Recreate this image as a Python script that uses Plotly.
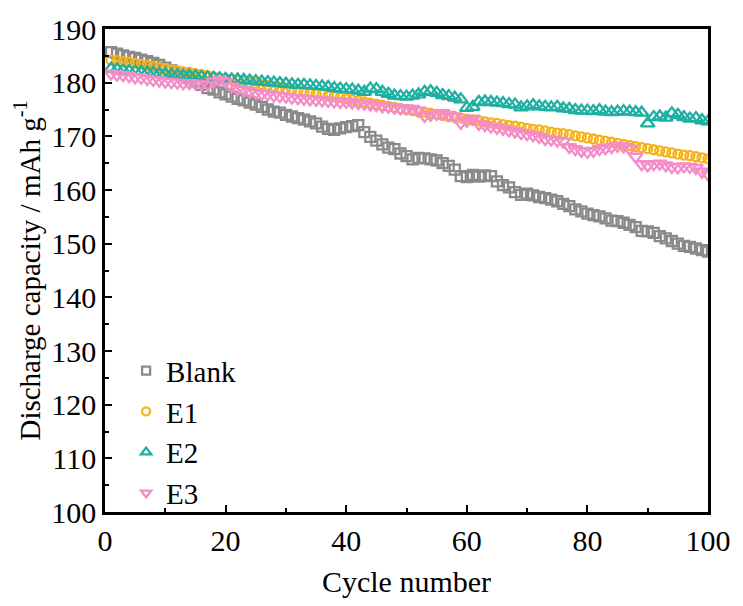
import plotly.graph_objects as go

cycles = list(range(1, 101))

blank = [185.7, 185.4, 185.1, 184.8, 184.6, 184.3, 184.0, 183.7, 183.3, 182.8,
         182.3, 181.8, 181.3, 180.8, 180.2, 179.6, 179.0, 178.7, 178.2, 177.8,
         177.4, 177.0, 176.7, 176.3, 175.9, 175.5, 175.0, 174.6, 174.4, 174.0,
         173.7, 173.4, 173.1, 172.8, 172.4, 171.8, 171.4, 171.2, 171.5, 171.7,
         171.9, 172.1, 170.8, 169.9, 169.2, 168.5, 167.9, 167.6, 166.8, 166.3,
         165.7, 166.0, 165.9, 165.7, 165.5, 165.0, 164.5, 163.8, 162.6, 162.4,
         162.8, 162.5, 162.7, 162.6, 161.6, 160.9, 160.5, 159.6, 159.1, 159.3,
         159.0, 158.7, 158.5, 158.2, 157.9, 157.4, 157.0, 156.4, 156.0, 155.6,
         155.3, 155.1, 154.7, 154.3, 154.2, 153.9, 153.5, 153.1, 152.4, 152.3,
         152.0, 151.4, 151.0, 150.5, 150.0, 149.6, 149.4, 149.1, 148.8, 148.5]

e1 = [184.2, 184.1, 183.9, 183.8, 183.6, 183.4, 183.2, 183.0, 182.8, 182.6,
      182.4, 182.2, 182.0, 181.9, 181.7, 181.5, 181.3, 181.1, 180.9, 180.7,
      180.6, 180.4, 180.2, 180.0, 179.9, 179.7, 179.5, 179.3, 179.1, 178.9,
      178.7, 178.5, 178.3, 178.2, 178.0, 177.8, 177.6, 177.4, 177.2, 177.0,
      176.8, 176.6, 176.4, 176.2, 176.0, 175.8, 175.6, 175.4, 175.2, 175.0,
      174.8, 174.6, 174.5, 174.3, 174.1, 173.9, 173.7, 173.6, 173.4, 173.2,
      173.0, 172.9, 172.7, 172.5, 172.4, 172.2, 172.0, 171.9, 171.7, 171.5,
      171.3, 171.2, 171.0, 170.8, 170.6, 170.5, 170.3, 170.1, 169.9, 169.7,
      169.5, 169.3, 169.1, 168.9, 168.7, 168.5, 168.3, 168.1, 167.9, 167.7,
      167.5, 167.3, 167.1, 166.9, 166.7, 166.5, 166.4, 166.2, 166.0, 165.8]

e2 = [182.6, 182.5, 182.3, 182.2, 182.1, 182.0, 181.9, 181.8, 181.7, 181.6,
      181.5, 181.4, 181.3, 181.3, 181.2, 181.1, 181.0, 180.9, 180.8, 180.7,
      180.6, 180.6, 180.5, 180.4, 180.3, 180.2, 180.1, 180.0, 179.9, 179.8,
      179.7, 179.6, 179.6, 179.5, 179.4, 179.3, 179.2, 179.0, 178.9, 178.8,
      178.7, 178.5, 178.3, 178.9, 178.8, 178.3, 177.9, 177.6, 177.5, 177.4,
      177.6, 177.8, 178.3, 178.4, 178.1, 177.7, 177.5, 177.2, 176.9, 175.3,
      175.5, 176.4, 176.5, 176.4, 176.3, 176.2, 176.0, 175.9, 175.4, 175.6,
      175.8, 175.6, 175.5, 175.4, 175.5, 175.2, 175.1, 174.9, 174.8, 174.8,
      174.7, 174.9, 174.6, 174.5, 174.6, 174.7, 174.6, 174.5, 174.4, 172.4,
      173.6, 173.7, 173.5, 174.3, 174.0, 173.6, 173.3, 173.4, 173.0, 172.8]

e3 = [181.7, 181.5, 181.4, 181.2, 181.0, 180.9, 180.7, 180.5, 180.4, 180.2,
      180.1, 180.0, 179.9, 179.9, 179.8, 179.7, 179.6, 180.2, 180.5, 180.2,
      179.3, 178.8, 178.6, 178.3, 178.1, 177.9, 177.8, 177.6, 177.5, 177.4,
      177.2, 177.1, 177.0, 176.9, 176.8, 176.7, 176.6, 176.5, 176.4, 176.4,
      176.3, 176.2, 176.1, 175.9, 175.8, 175.6, 175.5, 175.3, 175.2, 175.2,
      175.1, 174.8, 173.8, 174.0, 174.2, 174.3, 174.0, 173.7, 172.5, 172.9,
      173.3, 172.3, 172.1, 171.8, 171.6, 171.4, 171.1, 170.9, 170.6, 170.4,
      170.2, 169.9, 169.5, 169.4, 169.2, 169.0, 168.0, 167.6, 167.3, 167.1,
      167.3, 167.6, 167.8, 168.0, 168.2, 168.1, 167.7, 166.2, 164.8, 164.6,
      164.8, 164.9, 164.6, 164.3, 164.2, 164.4, 164.3, 164.1, 163.4, 162.9]

series_names = ["Blank", "E1", "E2", "E3"]
series_values = [blank, e1, e2, e3]
colors = ["#8a8a8a", "#f7b217", "#1eb0a3", "#f48cc8"]
symbols = ["square-open", "circle-open", "triangle-up-open", "triangle-down-open"]
sizes = [10, 9, 12, 12]
legend_sizes = [8, 8, 9, 9]

FONT = "Liberation Serif"

fig = go.Figure()
for name, vals, c, s, sz in zip(series_names, series_values, colors, symbols, sizes):
    fig.add_trace(go.Scatter(
        x=cycles, y=vals, name=name, mode="markers", showlegend=False,
        legendgroup=name,
        marker=dict(symbol=s, size=sz, color=c, line=dict(color=c, width=2.3)),
    ))
# legend entries with smaller symbols, as in the reference
for name, c, s, lsz in zip(series_names, colors, symbols, legend_sizes):
    fig.add_trace(go.Scatter(
        x=[None], y=[None], name=name, mode="markers", legendgroup=name,
        marker=dict(symbol=s, size=lsz, color=c, line=dict(color=c, width=2.3)),
    ))

fig.update_layout(
    width=743, height=606,
    margin=dict(l=105, r=27, t=26, b=88),
    paper_bgcolor="white", plot_bgcolor="white",
    font=dict(family=FONT, size=30, color="black"),
    showlegend=True,
    legend=dict(x=0.035, y=0.345, xanchor="left", yanchor="top",
                bgcolor="rgba(0,0,0,0)", font=dict(family=FONT, size=29),
                itemsizing="trace", tracegroupgap=0),
    xaxis=dict(range=[0, 100], tickmode="array", tickvals=[0, 20, 40, 60, 80, 100],
               ticks="inside", ticklen=7, tickwidth=2, tickcolor="black",
               minor=dict(tickvals=[10, 30, 50, 70, 90], ticks="inside", ticklen=4,
                          tickwidth=2, tickcolor="black"),
               showline=True, linecolor="black", linewidth=2.5, mirror=True,
               showgrid=False, zeroline=False,
               title=dict(text="Cycle number", font=dict(size=30), standoff=16),
               tickfont=dict(size=30)),
    yaxis=dict(range=[100, 190], tickmode="array",
               tickvals=list(range(100, 191, 10)),
               ticks="inside", ticklen=7, tickwidth=2, tickcolor="black",
               minor=dict(tickvals=list(range(105, 190, 10)), ticks="inside", ticklen=4,
                          tickwidth=2, tickcolor="black"),
               showline=True, linecolor="black", linewidth=2.5, mirror=True,
               showgrid=False, zeroline=False,
               title=dict(text="Discharge capacity / mAh g<sup>-1</sup>",
                          font=dict(size=29), standoff=3),
               tickfont=dict(size=30)),
)

fig.write_html("out.html")
